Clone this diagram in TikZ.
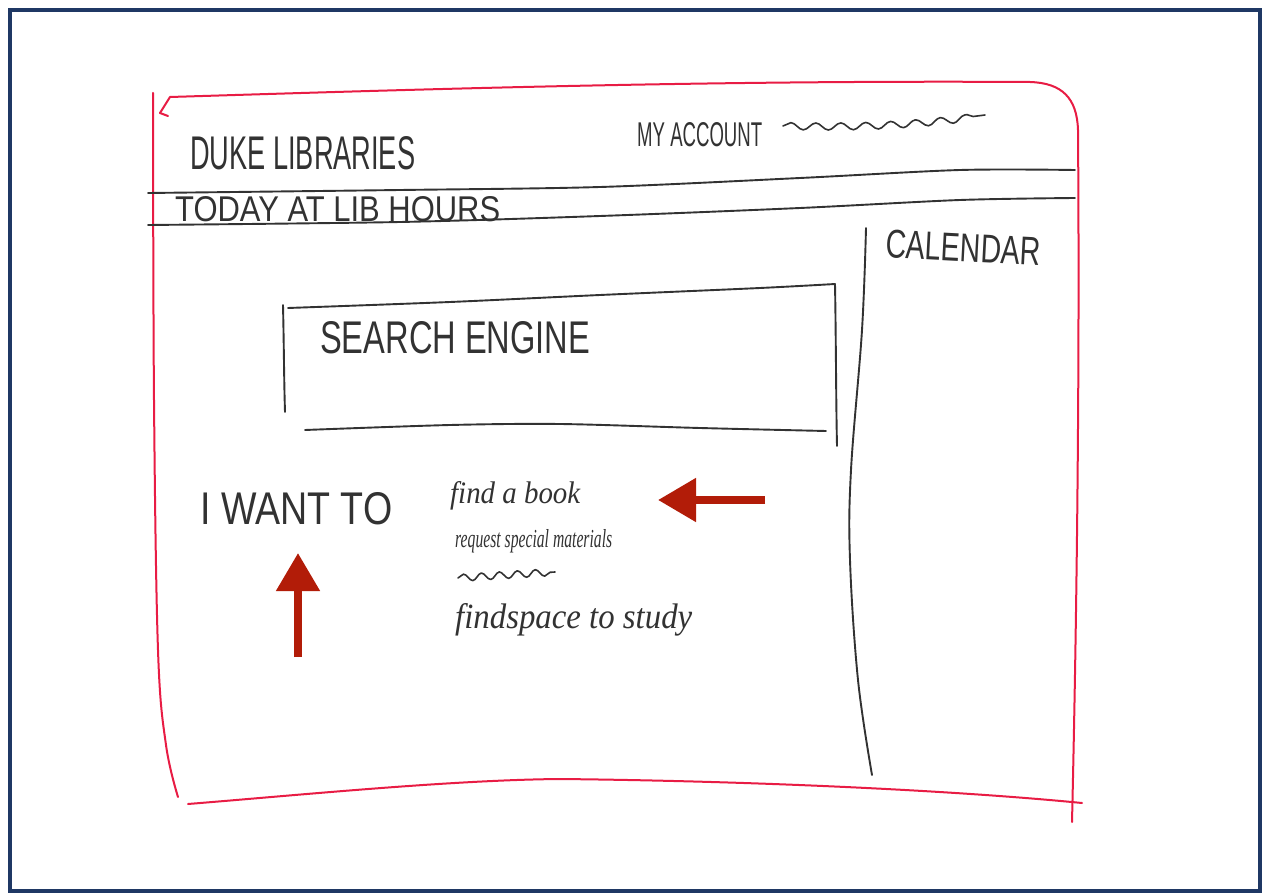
\documentclass[tikz,border=0pt]{standalone}
\usepackage{graphicx}
\usepackage{fontspec}
\setmainfont{Liberation Serif}
\newfontfamily\handcaps{Liberation Sans}
\usetikzlibrary{arrows.meta,decorations.pathmorphing}
\definecolor{navy}{RGB}{31,56,100}
\definecolor{marker}{RGB}{232,28,68}
\definecolor{pencil}{RGB}{50,50,50}
\definecolor{arrowred}{RGB}{178,28,8}
\begin{document}
\begin{tikzpicture}[x=1pt,y=-1pt,
  redline/.style={draw=marker,line width=2pt,line cap=round,line join=round},
  blkline/.style={draw=pencil,line width=1.9pt,line cap=round,line join=round},
  caps/.style={inner sep=0pt,anchor=south west,text=pencil,font=\handcaps},
  cursive/.style={inner sep=0pt,anchor=south west,text=pencil,font=\itshape},
  bigarrow/.style={draw=arrowred,fill=arrowred,line width=8pt,-{Triangle[length=38pt,width=42pt]}},
  squiggle/.style={blkline,line width=1.6pt,decorate,decoration={snake,segment length=#1,amplitude=3.5pt}}]
\useasboundingbox (0,0) rectangle (1264,893);
\fill[white] (0,0) rectangle (1264,893);
\draw[navy,line width=4pt] (10,10) rectangle (1260,891);

% red outer sketch frame
\draw[redline] (160,113) -- (170,97) .. controls (400,90) and (700,80) .. (1030,82)
  .. controls (1062,83) and (1077,98) .. (1078,130)
  .. controls (1080,400) and (1076,650) .. (1072,822);
\draw[redline] (160,113) -- (168,116);
\draw[redline] plot[smooth,tension=0.6] coordinates {(153,93) (154,400) (158,650) (166,745) (178,797)};
\draw[redline] (188,804) .. controls (300,795) and (450,780) .. (560,779)
  .. controls (750,781) and (950,790) .. (1082,803);

% header lines
\draw[blkline] plot[smooth,tension=0.5] coordinates {(148,193) (400,190) (600,187) (800,178) (960,170) (1075,170)};
\draw[blkline] plot[smooth,tension=0.5] coordinates {(148,225) (400,222) (600,216) (800,208) (960,200) (1075,198)};

% calendar divider
\draw[blkline] plot[smooth,tension=0.6] coordinates {(866,228) (862,330) (851,470) (850,560) (858,680) (872,775)};

% search box
\draw[blkline] (283,305) .. controls (284,350) and (284,380) .. (285,412);
\draw[blkline] plot[smooth,tension=0.5] coordinates {(288,308) (450,302) (600,295) (760,288) (835,284)};
\draw[blkline] (835,284) .. controls (836,340) and (836,400) .. (837,446);
\draw[blkline] plot[smooth,tension=0.5] coordinates {(305,430) (450,425) (560,424) (700,428) (826,431)};

% texts
\node[caps] (duke) at (190,170) {\resizebox{225pt}{33pt}{DUKE LIBRARIES}};
\node[caps] (account) at (637,147) {\resizebox{125pt}{24pt}{MY ACCOUNT}};
\draw[squiggle=25pt] (783,126) .. controls (880,128) and (930,122) .. (985,115);
\node[caps] (today) at (175,222) {\resizebox{325pt}{25pt}{TODAY AT LIB HOURS}};
\node[caps,rotate=-3,anchor=south west] (calendar) at (885,258) {\resizebox{155pt}{28pt}{CALENDAR}};
\node[caps] (search) at (320,354) {\resizebox{270pt}{32pt}{SEARCH ENGINE}};
\node[caps] (want) at (200,525) {\resizebox{192pt}{32pt}{I WANT TO}};
\node[cursive,anchor=base west] (book) at (450,503) {\resizebox{130pt}{22pt}{find a book}};
\node[cursive,anchor=base west] (request) at (455,547) {\resizebox{157pt}{18pt}{request special materials}};
\draw[squiggle=18pt] (458,578) -- (555,572);
\node[cursive,anchor=base west] (space) at (455,628) {\resizebox{237pt}{25pt}{findspace to study}};

% red arrows
\draw[bigarrow] (765,500) -- (658,500);
\draw[bigarrow] (298,657) -- (298,553);
\end{tikzpicture}
\end{document}
